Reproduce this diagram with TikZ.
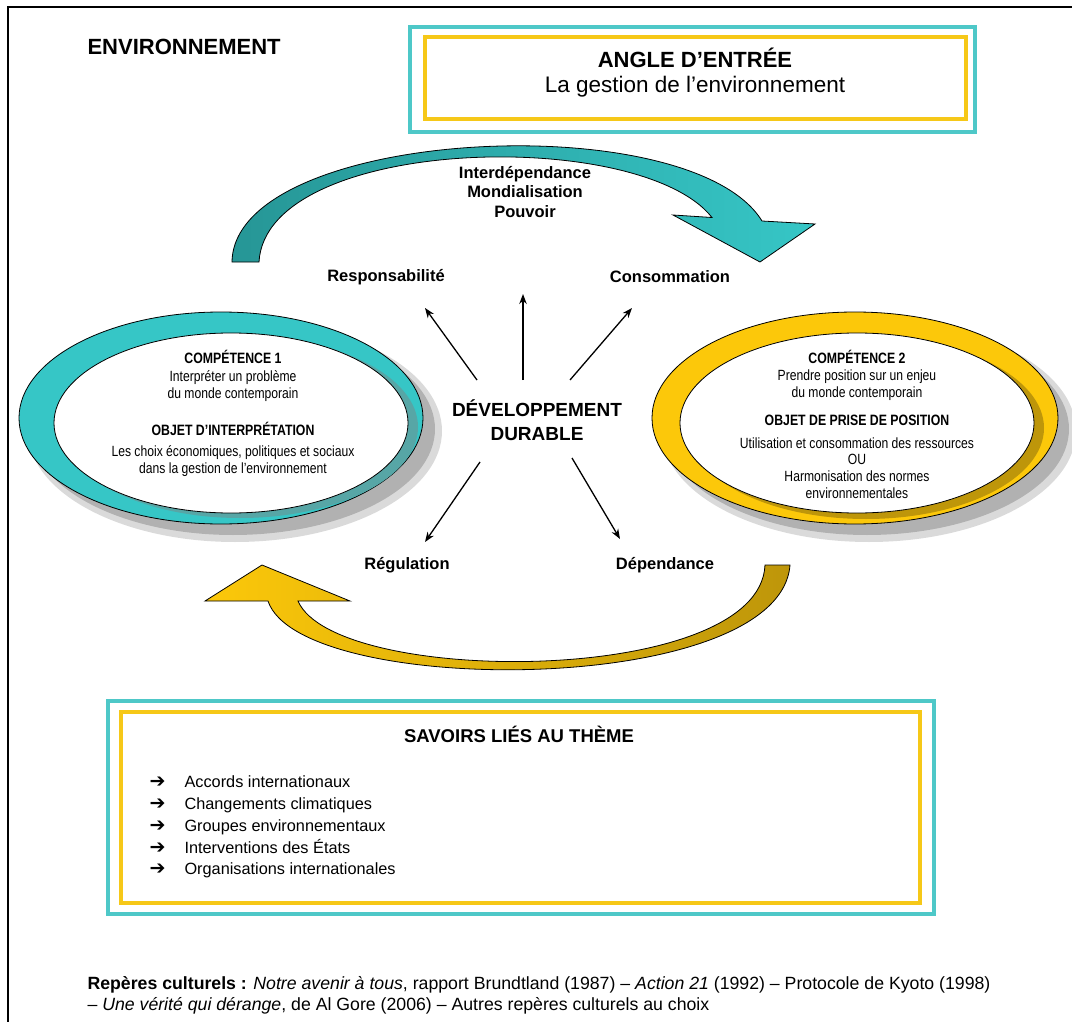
\documentclass[tikz,border=0pt]{standalone}
\usepackage{fontspec}
\setmainfont{Liberation Sans}
\newfontfamily\narrowfont[FakeStretch=0.82]{Liberation Sans}
\newfontfamily\symfont{DejaVu Sans}
\usetikzlibrary{arrows.meta,positioning}

\definecolor{tealframe}{RGB}{78,200,200}
\definecolor{goldframe}{RGB}{246,200,24}
\definecolor{tealring}{RGB}{54,198,198}
\definecolor{tealdark}{RGB}{38,150,150}
\definecolor{goldring}{RGB}{252,200,10}
\definecolor{golddark}{RGB}{190,150,10}
\definecolor{shadowgray}{RGB}{150,150,150}

\newcommand\pxfont[2]{\fontsize{#1}{#2}\selectfont}

\tikzset{
  tealbox/.style={draw=tealframe, line width=3.5pt},
  goldbox/.style={draw=goldframe, line width=3.5pt},
  keyword/.style={font=\bfseries\pxfont{16.5}{19.5}, align=center},
  ringtitle/.style={font=\narrowfont\bfseries\pxfont{15}{17}},
  ringtext/.style={font=\narrowfont\pxfont{14.8}{17}, align=center},
  spoke/.style={-{Stealth[length=10pt,width=7.5pt]}, line width=1.3pt},
  savoir/.style={anchor=base west, font=\pxfont{16.3}{20}},
}

\begin{document}
\begin{tikzpicture}[x=1pt,y=-1pt,font=\pxfont{16}{19}]
  \useasboundingbox (0,0) rectangle (1072,1022);

  \draw[line width=2.2pt] (8,1022) -- (8,7) -- (1072,7);

  \node[anchor=west, font=\bfseries\pxfont{22}{26}] (theme) at (84,47) {ENVIRONNEMENT};

  % angle d'entree
  \draw[tealbox] (410,27) rectangle (975,132);
  \draw[goldbox] (425,37) rectangle (966,119);
  \node[anchor=base, font=\bfseries\pxfont{22}{26}] (angle) at (695,68) {ANGLE D’ENTRÉE};
  \node[anchor=base, font=\pxfont{22.5}{26}] (gestion) at (695,93) {La gestion de l’environnement};

  % curved arrows
  \draw[line width=0.8pt, left color=tealdark, right color=tealring]
    (232,262) .. controls (234,128) and (690,104) .. (762,221) -- (815,224)
    -- (760,262) -- (673,215) -- (712,217.5)
    .. controls (640,126) and (266,136) .. (259,262) -- cycle;
  \draw[line width=0.8pt, left color=goldring, right color=golddark]
    (790,565) .. controls (780,698) and (300,698) .. (268,601) -- (205,601)
    -- (262,565) -- (350,601) -- (298,601)
    .. controls (335,687) and (760,687) .. (765,565) -- cycle;

  % competence 1
  \fill[shadowgray, opacity=0.35] (235,431) ellipse [x radius=207, y radius=111];
  \fill[shadowgray, opacity=0.6] (233,429) ellipse [x radius=202, y radius=106];
  \filldraw[fill=tealring, line width=0.8pt] (221,418) ellipse [x radius=202, y radius=106];
  \fill[tealring!55!gray] (240,427) ellipse [x radius=178, y radius=91];
  \filldraw[fill=white, line width=0.8pt] (231,423) ellipse [x radius=177, y radius=90];

  % competence 2
  \fill[shadowgray, opacity=0.35] (869,431) ellipse [x radius=207, y radius=111];
  \fill[shadowgray, opacity=0.6] (867,429) ellipse [x radius=202, y radius=106];
  \filldraw[fill=goldring, line width=0.8pt] (855,418) ellipse [x radius=203, y radius=106];
  \fill[golddark] (866,428) ellipse [x radius=178, y radius=91];
  \filldraw[fill=white, line width=0.8pt] (857,423) ellipse [x radius=177, y radius=90];

  \node[ringtitle] (comp1) at (233,357) {COMPÉTENCE 1};
  \node[ringtext] (comp1txt) at (233,386) {Interpréter un problème\\du monde contemporain};
  \node[ringtitle] (obj1) at (233,429) {OBJET D’INTERPRÉTATION};
  \node[ringtext] (obj1txt) at (233,461) {Les choix économiques, politiques et sociaux\\dans la gestion de l’environnement};

  \node[ringtitle] (comp2) at (857,357) {COMPÉTENCE 2};
  \node[ringtext] (comp2txt) at (857,385) {Prendre position sur un enjeu\\du monde contemporain};
  \node[ringtitle] (obj2) at (857,420) {OBJET DE PRISE DE POSITION};
  \node[ringtext, font=\narrowfont\pxfont{14.8}{16.7}] (obj2txt) at (857,468) {Utilisation et consommation des ressources\\OU\\Harmonisation des normes\\environnementales};

  % developpement durable
  \node[font=\bfseries\pxfont{19}{24}, align=center] (dd) at (537,420) {DÉVELOPPEMENT\\DURABLE};

  \node[keyword] (inter) at (525,192) {Interdépendance\\Mondialisation\\Pouvoir};
  \node[keyword] (resp) at (386,277) {Responsabilité};
  \node[keyword] (conso) at (670,277) {Consommation};
  \node[keyword] (regul) at (407,565) {Régulation};
  \node[keyword] (depend) at (665,565) {Dépendance};

  \coordinate (ul0) at (477,380); \coordinate (ul1) at (425,308);
  \coordinate (up0) at (523,380); \coordinate (up1) at (523,294);
  \coordinate (ur0) at (570,380); \coordinate (ur1) at (632,308);
  \coordinate (dl0) at (480,462); \coordinate (dl1) at (425,542);
  \coordinate (dr0) at (572,458); \coordinate (dr1) at (620,539);

  \draw[spoke] (ul0) -- (ul1);
  \draw[spoke] (up0) -- (up1);
  \draw[spoke] (ur0) -- (ur1);
  \draw[spoke] (dl0) -- (dl1);
  \draw[spoke] (dr0) -- (dr1);

  % savoirs
  \draw[tealbox] (108,701) rectangle (934,914);
  \draw[goldbox] (121,712) rectangle (920,903);
  \node[font=\bfseries\pxfont{18.5}{22}] (savoirs) at (519,734) {SAVOIRS LIÉS AU THÈME};
  \foreach \t [count=\i] in {Accords internationaux, Changements climatiques,
      Groupes environnementaux, Interventions des États, Organisations internationales}
    \node[savoir] (sav\i) at (146,766+21.75*\i) {\makebox[35pt][l]{\symfont\bfseries\pxfont{19}{20}➔}\t};

  % reperes
  \node[anchor=base west, font=\pxfont{17.7}{21}] (rep1) at (84,989)
    {\textbf{Repères culturels :} \textit{Notre avenir à tous}, rapport Brundtland (1987) – \textit{Action 21} (1992) – Protocole de Kyoto (1998)};
  \node[anchor=base west, font=\pxfont{17.7}{21}] (rep2) at (84,1010)
    {– \textit{Une vérité qui dérange}, de Al Gore (2006) – Autres repères culturels au choix};
\end{tikzpicture}
\end{document}
